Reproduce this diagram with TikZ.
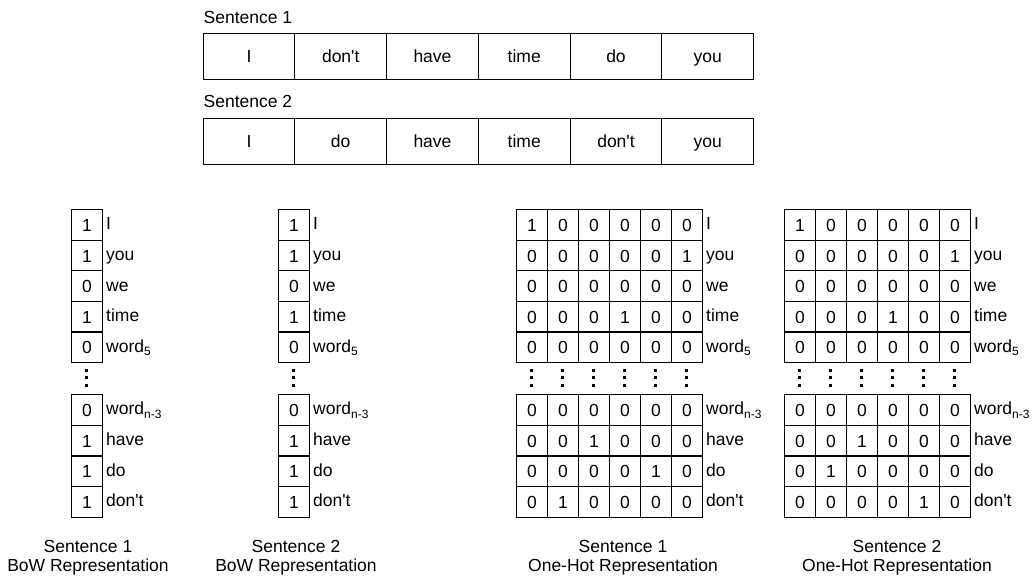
\documentclass[tikz,border=0pt]{standalone}
\usepackage{fontspec}
\setmainfont{Liberation Sans}[Ligatures=TeXOff]
\newcommand\sub[1]{\raisebox{-3.5pt}{\fontsize{12}{12}\selectfont #1}}
\begin{document}
\begin{tikzpicture}[x=1pt,y=-1pt,
  every node/.style={font=\fontsize{17.5}{19}\selectfont},
  wcell/.style={draw, line width=1.2pt, minimum width=91.75pt, minimum height=46pt, inner sep=0pt, anchor=north west, text height=15pt, text depth=1.8pt},
  cell/.style={draw, line width=1.2pt, minimum width=31pt, minimum height=30.6pt, inner sep=0pt, anchor=north west, text height=15pt, text depth=2pt},
  lbl/.style={anchor=west, inner sep=0pt, text height=13.5pt, text depth=2.5pt},
  dotsq/.style={fill=black, minimum size=3pt, inner sep=0pt, draw=none},
  capnode/.style={align=center, inner sep=0pt}
]
\useasboundingbox (0,0) rectangle (1035,579);
% top sentences
\node[lbl] (t1) at (203.5,17.5) {Sentence 1};
\foreach \w [count=\i from 0] in {I,don't,have,time,do,you}
  \node[wcell] (sa\i) at (202.5+91.75*\i,32.5) {\w};
\node[lbl] (t2) at (203.5,102) {Sentence 2};
\foreach \w [count=\i from 0] in {I,do,have,time,don't,you}
  \node[wcell] (sb\i) at (202.5+91.75*\i,117.5) {\w};

% BoW columns and row labels
\foreach \bx/\nm in {71/ba,278/bb}{
  \foreach \r/\yy/\v/\t in {0/209/1/I,1/239.6/1/you,2/270.2/0/we,3/300.8/1/time,4/331.4/0/word\sub{5},5/394/0/word\sub{n-3},6/424.7/1/have,7/455.4/1/do,8/486.1/1/don't}{
    \node[cell] (\nm-\r) at (\bx,\yy) {\v};
    \node[lbl] (\nm-l\r) at (\bx+35,\yy+15.3) {\t};
  }
  \foreach \dy in {370,377.5,385}
    \node[dotsq] at (\bx+15.5,\dy) {};
}

% One-hot matrices
\foreach \r/\yy/\vals in {0/209/{1,0,0,0,0,0},1/239.6/{0,0,0,0,0,1},2/270.2/{0,0,0,0,0,0},3/300.8/{0,0,0,1,0,0},4/331.4/{0,0,0,0,0,0},5/394/{0,0,0,0,0,0},6/424.7/{0,0,1,0,0,0},7/455.4/{0,0,0,0,1,0},8/486.1/{0,1,0,0,0,0}}{
  \foreach \v [count=\c from 0] in \vals
    \node[cell] (oa-\r-\c) at (516+31*\c,\yy) {\v};
}
\foreach \r/\yy/\vals in {0/209/{1,0,0,0,0,0},1/239.6/{0,0,0,0,0,1},2/270.2/{0,0,0,0,0,0},3/300.8/{0,0,0,1,0,0},4/331.4/{0,0,0,0,0,0},5/394/{0,0,0,0,0,0},6/424.7/{0,0,1,0,0,0},7/455.4/{0,1,0,0,0,0},8/486.1/{0,0,0,0,1,0}}{
  \foreach \v [count=\c from 0] in \vals
    \node[cell] (ob-\r-\c) at (784+31*\c,\yy) {\v};
}
\foreach \ox/\nm in {516/oa,784/ob}{
  \foreach \r/\yy/\t in {0/209/I,1/239.6/you,2/270.2/we,3/300.8/time,4/331.4/word\sub{5},5/394/word\sub{n-3},6/424.7/have,7/455.4/do,8/486.1/don't}
    \node[lbl] (\nm-l\r) at (\ox+190,\yy+15.3) {\t};
  \foreach \c in {0,...,5}
    \foreach \dy in {370,377.5,385}
      \node[dotsq] at (\ox+15.5+31*\c,\dy) {};
}

% captions
\node[capnode] (c1) at (88,557.5) {Sentence 1\\BoW Representation};
\node[capnode] (c2) at (296,557.5) {Sentence 2\\BoW Representation};
\node[capnode] (c3) at (623,557.5) {Sentence 1\\One-Hot Representation};
\node[capnode] (c4) at (897,557.5) {Sentence 2\\One-Hot Representation};
\end{tikzpicture}
\end{document}
